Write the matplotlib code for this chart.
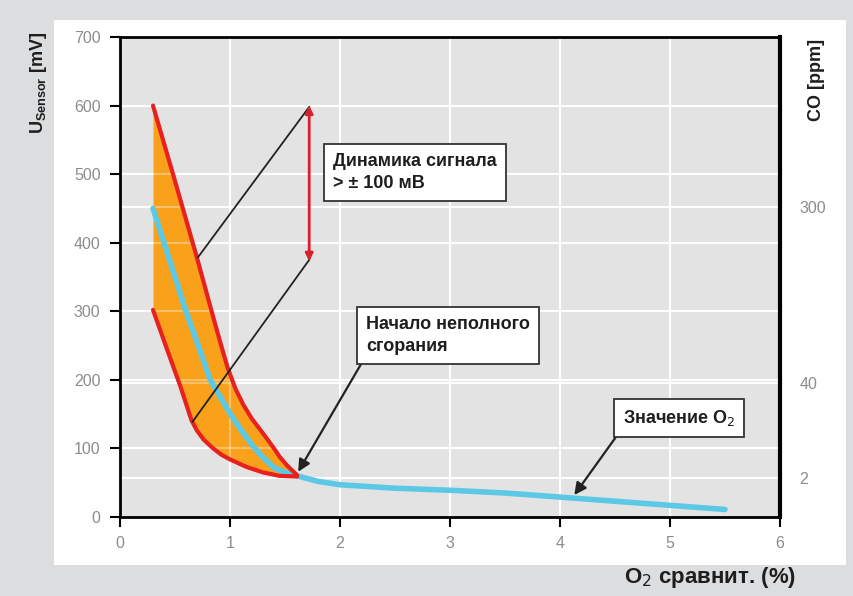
import numpy as np
import matplotlib.pyplot as plt
from matplotlib.patches import Rectangle

plt.rcParams['font.family'] = ['Liberation Sans', 'DejaVu Sans']

# band of sensor signal (mV) vs O2 (%)
upper_x = [0.3, 0.5, 0.7, 0.85, 0.92, 0.98, 1.05, 1.12, 1.2, 1.3, 1.4, 1.45, 1.52, 1.61]
upper_y = [600, 490, 378, 290, 250, 217, 187, 164, 143, 122, 100, 88, 75, 61]
lower_x = [0.3, 0.42, 0.55, 0.65, 0.7, 0.76, 0.84, 0.92, 1.0, 1.15, 1.3, 1.45, 1.61]
lower_y = [302, 248, 190, 141, 126, 113, 101, 91, 84, 73, 65, 60, 59]

# O2 value curve
o2_x = [0.3, 0.4, 0.52, 0.6, 0.7, 0.82, 0.9, 1.0, 1.1, 1.2, 1.3, 1.4, 1.5, 1.61,
        1.8, 2.0, 2.5, 3.0, 3.5, 4.0, 4.5, 5.0, 5.5]
o2_y = [450, 400, 340, 300, 255, 200, 178, 151, 127, 105, 87, 72, 65, 60,
        52, 47, 42, 39, 35, 29, 23, 17, 11]

# right axis (CO ppm) tick positions in mV scale
co_ticks_mv = [452, 195, 57]
co_labels = ['300', '40', '2']

fig = plt.figure(figsize=(8.54, 5.96), dpi=100)
fig.patch.set_facecolor('#dcdddf')
fig.patches.append(Rectangle((54/854, 1-565/596), (846-54)/854, (565-20)/596,
                             transform=fig.transFigure, facecolor='white',
                             edgecolor='none', zorder=-5))

ax = fig.add_axes([120/854, 1-517/596, 660/854, 480/596])
ax.set_facecolor('#e3e3e3')
ax.set_xlim(0, 6)
ax.set_ylim(0, 700)
ax.set_xticks(range(0, 7))
ax.set_yticks(range(0, 701, 100))
hlines = list(range(100, 701, 100)) + co_ticks_mv
for v in range(1, 6):
    ax.axvline(v, color='white', lw=1.5, zorder=1)
    ax.axvline(v, color='white', lw=1.5, alpha=0.35, zorder=2.5)
for v in hlines:
    ax.axhline(v, color='white', lw=1.5, zorder=1)
    ax.axhline(v, color='white', lw=1.5, alpha=0.35, zorder=2.5)

ax.tick_params(axis='both', direction='out', length=7, width=1.5, pad=7,
               labelcolor='#8c8c8c', labelsize=11.5, color='black')
for s in ['left', 'bottom', 'top']:
    ax.spines[s].set_linewidth(2)
ax.spines['right'].set_linewidth(3)

# band
xs = np.linspace(0.3, 1.61, 300)
up = np.interp(xs, upper_x, upper_y)
lo = np.interp(xs, lower_x, lower_y)
ax.fill_between(xs, lo, up, color='#f9a11b', zorder=2, lw=0)
ax.plot(upper_x, upper_y, color='#e8201e', lw=3, zorder=4,
        solid_capstyle='round', solid_joinstyle='round')
ax.plot(lower_x, lower_y, color='#e8201e', lw=3, zorder=4,
        solid_capstyle='round', solid_joinstyle='round')
ax.plot(o2_x, o2_y, color='#5bc8e6', lw=4, zorder=3,
        solid_capstyle='round', solid_joinstyle='round')

# signal dynamics arrow and leader lines
ax.plot([0.71, 1.72], [379, 598], color='#222222', lw=1.3, zorder=5)
ax.plot([0.66, 1.72], [139, 375], color='#222222', lw=1.3, zorder=5)
ax.annotate('', xy=(1.72, 600), xytext=(1.72, 373),
            arrowprops=dict(arrowstyle='<|-|>', color='#d8202a', lw=2,
                            mutation_scale=11, shrinkA=0, shrinkB=0), zorder=6)

box = dict(boxstyle='square,pad=0.5', facecolor='white', edgecolor='#333333', lw=1.3)
ax.text(1.936, 502, 'Динамика сигнала\n> ± 100 мВ', fontsize=13, fontweight='bold',
        va='center', ha='left', bbox=box, zorder=7, color='#1e1e1e', linespacing=1.4)

ax.annotate('Начало неполного\nсгорания', xy=(1.62, 66), xytext=(2.24, 265),
            fontsize=13, fontweight='bold', va='center', ha='left', color='#1e1e1e',
            bbox=box, linespacing=1.4, zorder=7,
            arrowprops=dict(arrowstyle='-|>', color='#222222', lw=1.6,
                            mutation_scale=18, relpos=(0, 0), shrinkA=0, shrinkB=0))

ax.annotate('Значение O$_2$', xy=(4.13, 32), xytext=(4.57, 145),
            fontsize=13, fontweight='bold', va='center', ha='left', color='#1e1e1e',
            bbox=box, zorder=7,
            arrowprops=dict(arrowstyle='-|>', color='#222222', lw=1.6,
                            mutation_scale=18, relpos=(0, 0), shrinkA=0, shrinkB=0))

ax.set_ylabel('U$_{\\mathregular{Sensor}}$ [mV]', fontsize=13, fontweight='bold',
              color='#1e1e1e')
ax.yaxis.set_label_coords(-0.108, 0.905)

ax2 = ax.twinx()
ax2.set_ylim(0, 700)
ax2.set_yticks(co_ticks_mv)
ax2.set_yticklabels(co_labels)
ax2.tick_params(axis='y', length=0, pad=14, labelcolor='#8c8c8c', labelsize=11.5)
for s in ax2.spines.values():
    s.set_visible(False)
ax2.set_ylabel('CO [ppm]', fontsize=13, fontweight='bold', color='#1e1e1e')
ax2.yaxis.set_label_coords(1.043, 0.91)

fig.text(796/854, 1-578/596, 'O$_2$ сравнит. (%)', fontsize=16, fontweight='bold',
         ha='right', va='center', color='#1e1e1e')

fig.savefig('out.png', dpi=100, facecolor=fig.get_facecolor())
